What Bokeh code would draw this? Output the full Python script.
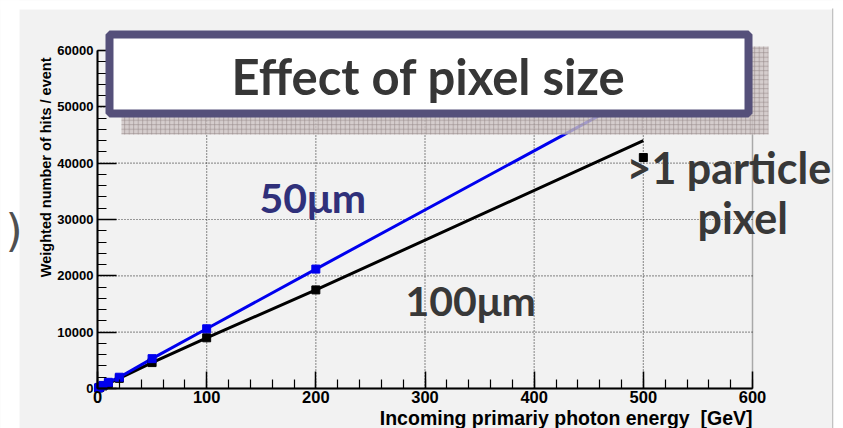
from bokeh.plotting import figure
from bokeh.models import BoxAnnotation, Label, SingleIntervalTicker, Range1d
from bokeh.embed import file_html
from bokeh.resources import INLINE
import math

# Beam energies [GeV] and weighted hit counts per event for two pixel sizes
energy_gev = [1, 2, 5, 10, 20, 50, 100, 200, 500]
hits_50um = [110, 220, 550, 1100, 2000, 5300, 10600, 21200, 52700]
hits_100um = [90, 180, 450, 900, 1800, 4600, 9000, 17500, 44000]
marked_energy = [1, 2, 5, 10, 20, 50, 100, 200]

# Pointer square next to the ">1 particle / pixel" note
pointer_energy = [500]
pointer_hits = [41000]

# axis extent and grid positions
x_limits = (0, 600)
y_limits = (0, 60000)
x_grid_ticks = [100, 200, 300, 400, 500]
y_grid_ticks = [10000, 20000, 30000, 40000, 50000]
x_ticks_step = 100
y_ticks_step = 10000

W, H = 843, 428
# pixel box occupied by the axes inside the canvas
AX_L, AX_R, AX_T, AX_B = 97, 752, 50, 388
X0, X1 = x_limits
Y0, Y1 = y_limits
kx = (X1 - X0) / (AX_R - AX_L)
ky = (Y1 - Y0) / (AX_B - AX_T)


def sx(px):
    """canvas column -> data x"""
    return X0 + (px - AX_L) * kx


def sy(py):
    """canvas row (from top) -> data y"""
    return Y0 + (AX_B - py) * ky


p = figure(width=W, height=H,
           x_range=Range1d(sx(0), sx(W)), y_range=Range1d(sy(H), sy(0)),
           output_backend="svg", toolbar_location=None,
           min_border=0, min_border_left=0, min_border_right=0,
           min_border_top=0, min_border_bottom=0,
           background_fill_color="#f2f2f2", border_fill_color="#f2f2f2")
p.outline_line_color = None
p.xgrid.visible = False
p.ygrid.visible = False

# white page strips around the grey panel
for l, r, t, b in ((-5, 19, -5, H + 5), (-5, W + 5, -5, 9)):
    p.add_layout(BoxAnnotation(left=sx(l), right=sx(r), top=sy(t), bottom=sy(b),
                               fill_color="white", fill_alpha=1.0, line_alpha=0,
                               level="underlay"))

# dotted grid
p.segment(x0=x_grid_ticks, x1=x_grid_ticks, y0=[Y0] * len(x_grid_ticks),
          y1=[Y1] * len(x_grid_ticks), line_color="#2a2a2a", line_width=1.2,
          line_dash="1 2", line_alpha=0.9)
p.segment(x0=[X0] * len(y_grid_ticks), x1=[X1] * len(y_grid_ticks), y0=y_grid_ticks,
          y1=y_grid_ticks, line_color="#2a2a2a", line_width=1.2,
          line_dash="1 2", line_alpha=0.9)

# frame
p.add_layout(BoxAnnotation(left=X0, right=X1, bottom=Y0, top=Y1, fill_alpha=0,
                           line_color="black", line_width=1.5, level="underlay"))

# axes pinned at the origin
xt = SingleIntervalTicker(interval=x_ticks_step, num_minor_ticks=5)
yt = SingleIntervalTicker(interval=y_ticks_step, num_minor_ticks=5)
p.xaxis.ticker = xt
p.yaxis.ticker = yt
p.xaxis.fixed_location = Y0
p.yaxis.fixed_location = X0
p.xaxis.bounds = x_limits
p.yaxis.bounds = y_limits
for ax in (p.xaxis[0], p.yaxis[0]):
    ax.axis_line_color = "black"
    ax.axis_line_width = 2
    ax.major_tick_line_color = "black"
    ax.minor_tick_line_color = "black"
    ax.major_tick_line_width = 1.5
    ax.minor_tick_line_width = 1.2
    ax.major_tick_out = 0
    ax.minor_tick_out = 0
    ax.minor_tick_in = 9
    ax.major_label_text_font = "Liberation Sans"
    ax.major_label_text_font_style = "bold"
    ax.major_label_text_color = "black"
p.xaxis.major_tick_in = 17
p.yaxis.major_tick_in = 19
p.xaxis.major_label_text_font_size = "16.5px"
p.yaxis.major_label_text_font_size = "13px"
p.xaxis.major_label_standoff = 2
p.yaxis.major_label_standoff = 4

# data series
p.line(energy_gev, hits_100um, line_color="black", line_width=3)
p.line(energy_gev, hits_50um, line_color="#0000ee", line_width=3)
m100 = hits_100um[:len(marked_energy)]
m50 = hits_50um[:len(marked_energy)]
p.scatter(marked_energy, m100, marker="square", size=8, color="black")
p.scatter(marked_energy, m50, marker="square", size=8, color="#0000ee")
p.scatter(pointer_energy, pointer_hits, marker="square", size=8, color="black")

# axis titles
p.add_layout(Label(x=sx(45), y=sy(57), text="Weighted number of hits / event",
                   angle=math.pi / 2, text_align="right", text_baseline="middle",
                   text_font="Liberation Sans", text_font_style="bold",
                   text_font_size="14.5px", text_color="black"))
p.add_layout(Label(x=sx(752), y=sy(417),
                   text="Incoming primariy photon energy\u00a0\u00a0[GeV]",
                   text_align="right", text_baseline="alphabetic",
                   text_font="Liberation Sans", text_font_style="bold",
                   text_font_size="19.5px", text_color="black"))

# title banner with hatched shadow
p.add_layout(BoxAnnotation(left=sx(121), right=sx(768), top=sy(46), bottom=sy(134),
                           fill_color="#cdc3c3", fill_alpha=0.8, line_alpha=0,
                           hatch_pattern="+", hatch_color="#958888", hatch_alpha=0.8,
                           hatch_scale=4.5, hatch_weight=0.7))
p.add_layout(BoxAnnotation(left=sx(109), right=sx(748), top=sy(34), bottom=sy(113),
                           fill_color="white", fill_alpha=1.0,
                           line_color="#55507a", line_width=8, line_alpha=1.0))
p.add_layout(Label(x=sx(428), y=sy(75), text="Effect of pixel size",
                   text_align="center", text_baseline="middle",
                   text_font="Lato", text_font_style="bold",
                   text_font_size="49px", text_color="#363636"))

# curve annotations
note = dict(text_align="left", text_baseline="alphabetic", text_font="Lato",
            text_font_style="bold", text_font_size="41px")
p.add_layout(Label(x=sx(259), y=sy(197), text="50\u03bcm", text_color="#30307a", **note))
p.add_layout(Label(x=sx(405), y=sy(300), text="100\u03bcm", text_color="#383838", **note))
p.add_layout(Label(x=sx(626), y=sy(167), text=">1\u00a0particle", text_color="#383838",
                   text_align="left", text_baseline="alphabetic", text_font="Lato",
                   text_font_style="bold", text_font_size="43px"))
p.add_layout(Label(x=sx(697), y=sy(217), text="pixel", text_color="#383838",
                   text_align="left", text_baseline="alphabetic", text_font="Lato",
                   text_font_style="bold", text_font_size="43px"))
p.add_layout(Label(x=sx(5), y=sy(230), text=")", text_align="left",
                   text_baseline="middle", text_font="DejaVu Sans",
                   text_font_size="44px", text_color="#505050"))

# right page edge drawn over everything that runs past it
p.add_layout(BoxAnnotation(left=sx(832), right=sx(W + 5), top=sy(-5), bottom=sy(H + 5),
                           fill_color="white", fill_alpha=1.0, line_alpha=0,
                           level="overlay"))
p.add_layout(BoxAnnotation(left=sx(831.5), right=sx(832.8), top=sy(8), bottom=sy(H + 5),
                           fill_color="#c2c2c2", fill_alpha=1.0, line_alpha=0,
                           level="overlay"))

open("out.html", "w").write(file_html(p, INLINE))
